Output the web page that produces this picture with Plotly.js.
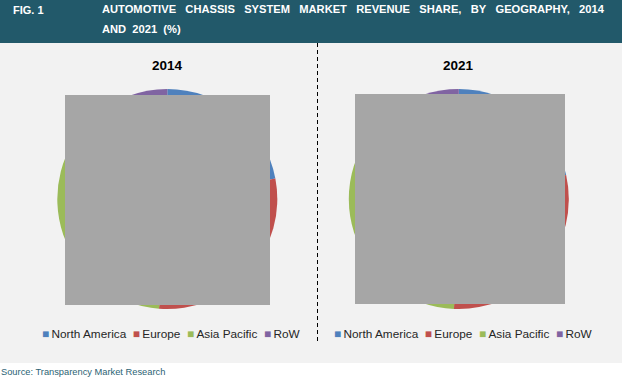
<!DOCTYPE html>
<html>
<head>
<meta charset="utf-8">
<script src="https://cdn.plot.ly/plotly-3.0.1.min.js"></script>
<style>html,body{margin:0;padding:0;background:#fff}#chart{width:622px;height:384px}</style>
</head>
<body>
<div id="chart"></div>
<script>
// ---- data ----
const regions = ["North America", "Europe", "Asia Pacific", "RoW"];
const share2014 = [22.0, 29.2, 37.1, 11.7];
const share2021 = [21.5, 29.2, 38.8, 10.5];
const years = ["2014", "2021"];
const regionColors = ["#4f81bd", "#c0504d", "#9bbb59", "#8064a2"];
const figLabel = "FIG. 1";
const titleLine1 = ["AUTOMOTIVE", "CHASSIS", "SYSTEM", "MARKET", "REVENUE", "SHARE,", "BY", "GEOGRAPHY,", "2014"];
const titleLine2 = ["AND", "2021", "(%)"];
const sourceText = "Source: Transparency Market Research";

// ---- helpers (pixel -> paper) ----
const W = 622, H = 384;
const px = x => x / W;
const py = y => 1 - y / H;
const gap = "\u00a0\u00a0\u00a0";

function pieTrace(values, cx, cy, r) {
  return {
    type: "pie",
    labels: regions,
    values: values,
    sort: false,
    direction: "clockwise",
    rotation: 0,
    marker: { colors: regionColors, line: { width: 0 } },
    textinfo: "none",
    hoverinfo: "label+percent",
    domain: { x: [px(cx - r), px(cx + r)], y: [py(cy + r), py(cy - r)] },
    showlegend: false
  };
}

const data = [
  pieTrace(share2014, 167.3, 199, 110),
  pieTrace(share2021, 458.8, 199, 110)
];

function legendText() {
  return regions.map((r, i) =>
    `<span style="color:${regionColors[i]}">\u25A0</span>\u2009${r}`
  ).join("\u00a0\u00a0");
}

const font = "Liberation Sans, Arial, sans-serif";

const annotations = [
  { text: "<b>" + figLabel + "</b>", x: px(12), y: py(10), xanchor: "left", yanchor: "middle",
    font: { family: font, size: 11, color: "#ffffff" } },
  { text: "<b>" + titleLine1.join(gap) + "</b>", x: px(101), y: py(9), xanchor: "left", yanchor: "middle",
    font: { family: font, size: 11.15, color: "#ffffff" } },
  { text: "<b>" + titleLine2.join("\u00a0\u00a0") + "</b>", x: px(101), y: py(28.5), xanchor: "left", yanchor: "middle",
    font: { family: font, size: 11.15, color: "#ffffff" } },
  { text: "<b>" + years[0] + "</b>", x: px(167.7), y: py(65.5), xanchor: "center", yanchor: "middle",
    font: { family: font, size: 13.5, color: "#000000" } },
  { text: "<b>" + years[1] + "</b>", x: px(458.5), y: py(65.5), xanchor: "center", yanchor: "middle",
    font: { family: font, size: 13.5, color: "#000000" } },
  { text: legendText(), x: px(41), y: py(334), xanchor: "left", yanchor: "middle",
    font: { family: font, size: 11.8, color: "#262626" } },
  { text: legendText(), x: px(333), y: py(334), xanchor: "left", yanchor: "middle",
    font: { family: font, size: 11.8, color: "#262626" } },
  { text: sourceText, x: px(0), y: py(371.5), xanchor: "left", yanchor: "middle",
    font: { family: font, size: 9.3, color: "#2c6374" } }
].map(a => Object.assign({ xref: "paper", yref: "paper", showarrow: false, borderpad: 0 }, a));

const shapes = [
  { type: "rect", layer: "below", x0: 0, x1: 1, y0: py(363), y1: py(43), fillcolor: "#f2f2f2", line: { width: 0 } },
  { type: "rect", layer: "below", x0: 0, x1: 1, y0: py(43), y1: 1, fillcolor: "#22596a", line: { width: 0 } },
  { type: "line", layer: "above", x0: px(317.5), x1: px(317.5), y0: py(43), y1: py(342), line: { color: "#000000", width: 1, dash: "4px,3px" } },
  { type: "rect", layer: "above", x0: px(65), x1: px(270), y0: py(305), y1: py(95), fillcolor: "#a6a6a6", line: { width: 0 } },
  { type: "rect", layer: "above", x0: px(355), x1: px(565), y0: py(304), y1: py(94), fillcolor: "#a6a6a6", line: { width: 0 } }
].map(s => Object.assign({ xref: "paper", yref: "paper" }, s));

const layout = {
  width: W, height: H,
  margin: { l: 0, r: 0, t: 0, b: 0 },
  paper_bgcolor: "#ffffff",
  plot_bgcolor: "rgba(0,0,0,0)",
  showlegend: false,
  font: { family: font },
  annotations: annotations,
  shapes: shapes
};

Plotly.newPlot("chart", data, layout, { displayModeBar: false, staticPlot: true });
</script>
</body>
</html>
